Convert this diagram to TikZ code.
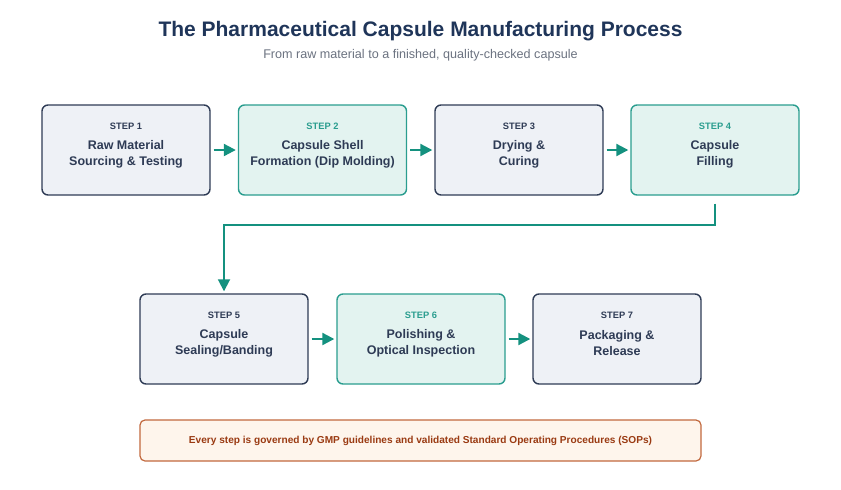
\documentclass[tikz,border=0pt]{standalone}
\usepackage{fontspec}
\setmainfont{Liberation Sans}
\definecolor{CNavy}{HTML}{1F3559}
\definecolor{CSlate}{HTML}{2E3B55}
\definecolor{CGreyFill}{HTML}{EEF1F6}
\definecolor{CTeal}{HTML}{2A9D8F}
\definecolor{CTealFill}{HTML}{E3F3F0}
\definecolor{CArrow}{HTML}{14917F}
\definecolor{CSub}{HTML}{6B7280}
\definecolor{CNoteFill}{HTML}{FEF5EC}
\definecolor{CNoteRule}{HTML}{C2693E}
\definecolor{CNoteText}{HTML}{9A3A12}
\usetikzlibrary{arrows.meta,positioning,calc}

\begin{document}
\begin{tikzpicture}[x=1pt,y=-1pt,
    plainbox/.style={draw=CSlate,fill=CGreyFill,line width=1.4pt,rounded corners=6pt,
      minimum width=168pt,minimum height=90pt,inner sep=0pt},
    tealbox/.style={plainbox,draw=CTeal,fill=CTealFill},
    plainlab/.style={text=CSlate,font=\fontsize{9.3}{11}\selectfont\bfseries},
    teallab/.style={plainlab,text=CTeal},
    steptxt/.style={text=CSlate,align=center,font=\fontsize{12.5}{16}\selectfont\bfseries},
    flow/.style={-{Triangle[length=12pt,width=12pt]},CArrow,line width=2.2pt}]
  \useasboundingbox (0,0) rectangle (841,490);
  % heading
  \node[text=CNavy,font=\fontsize{21}{25}\selectfont\bfseries] (title) at (420.5,31)
    {The Pharmaceutical Capsule Manufacturing Process};
  \node[text=CSub,font=\fontsize{12.6}{15}\selectfont] (subtitle) at (420.5,55)
    {From raw material to a finished, quality-checked capsule};
  % the seven steps
  \foreach \n/\x/\y/\kind/\txt in {1/126/150/plain/{Raw Material\\Sourcing \& Testing},
      2/322.5/150/teal/{Capsule Shell\\Formation (Dip Molding)},
      3/519/150/plain/{Drying \&\\Curing},
      4/715/150/teal/{Capsule\\Filling},
      5/224/339/plain/{Capsule\\Sealing/Banding},
      6/421/339/teal/{Polishing \&\\Optical Inspection},
      7/617/339/plain/{Packaging \&\\Release}}{
    \node[\kind box] (s\n) at (\x,\y) {};
    \node[\kind lab,below=15pt of s\n.north] (s\n-lab) {STEP \n};
    \node[steptxt] (s\n-txt) at ($(s\n.center)+(0,4)$) {\txt};
  }
  \foreach \a/\b in {1/2,2/3,3/4,5/6,6/7}
    \draw[flow,shorten <=3pt,shorten >=2pt] (s\a) -- (s\b);
  % wrap round to the second row
  \draw[flow,line width=1.8pt,shorten <=8pt,shorten >=2pt] (s4.south) -- ++(0,29) -| (s5.north);
  % GMP note
  \node[draw=CNoteRule,fill=CNoteFill,line width=1.2pt,rounded corners=5pt,
    minimum width=561pt,minimum height=41pt,text=CNoteText,
    font=\fontsize{10.1}{12}\selectfont\bfseries] (note) at (420.5,440.5)
    {Every step is governed by GMP guidelines and validated Standard Operating Procedures (SOPs)};
\end{tikzpicture}
\end{document}
